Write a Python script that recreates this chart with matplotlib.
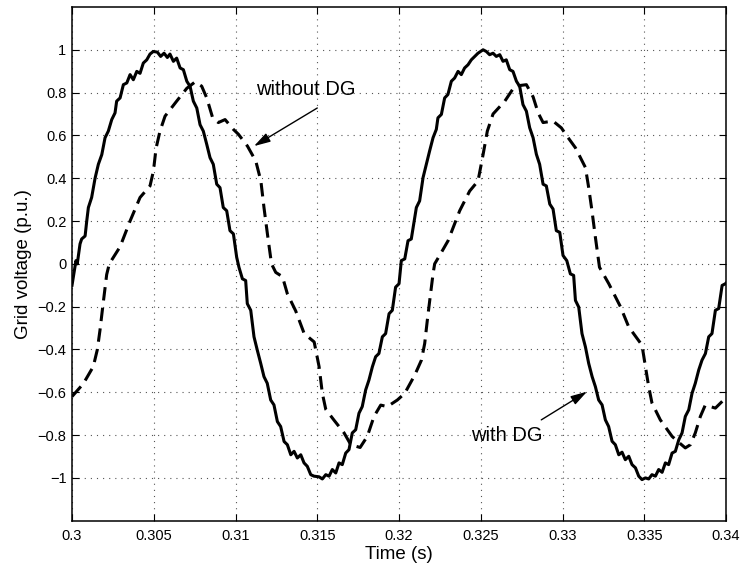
import matplotlib
matplotlib.use("Agg")
import matplotlib.pyplot as plt
from matplotlib.ticker import FuncFormatter
import numpy as np

# values
# with DG (solid)
t_with = [0.30000, 0.30024, 0.30032, 0.30049, 0.30059, 0.30080, 0.30090, 0.30100, 0.30120, 0.30141,
          0.30161, 0.30182, 0.30202, 0.30222, 0.30243, 0.30263, 0.30273, 0.30294, 0.30314, 0.30335,
          0.30355, 0.30375, 0.30396, 0.30416, 0.30436, 0.30457, 0.30477, 0.30497, 0.30522, 0.30542,
          0.30563, 0.30583, 0.30599, 0.30620, 0.30640, 0.30661, 0.30681, 0.30702, 0.30722, 0.30742,
          0.30763, 0.30783, 0.30803, 0.30824, 0.30844, 0.30864, 0.30885, 0.30905, 0.30925, 0.30946,
          0.30966, 0.30987, 0.31007, 0.31021, 0.31042, 0.31062, 0.31072, 0.31093, 0.31113, 0.31133,
          0.31154, 0.31174, 0.31194, 0.31215, 0.31235, 0.31256, 0.31276, 0.31297, 0.31317, 0.31338,
          0.31358, 0.31378, 0.31399, 0.31419, 0.31439, 0.31460, 0.31480, 0.31511, 0.31531, 0.31552,
          0.31572, 0.31592, 0.31613, 0.31633, 0.31653, 0.31674, 0.31694, 0.31714, 0.31735, 0.31755,
          0.31775, 0.31796, 0.31816, 0.31837, 0.31857, 0.31877, 0.31898, 0.31918, 0.31939, 0.31959,
          0.31979, 0.32000, 0.32014, 0.32035, 0.32055, 0.32075, 0.32096, 0.32106, 0.32126, 0.32147,
          0.32167, 0.32187, 0.32208, 0.32228, 0.32238, 0.32259, 0.32279, 0.32299, 0.32320, 0.32340,
          0.32361, 0.32381, 0.32401, 0.32422, 0.32442, 0.32463, 0.32483, 0.32514, 0.32534, 0.32554,
          0.32575, 0.32595, 0.32616, 0.32636, 0.32656, 0.32677, 0.32697, 0.32718, 0.32738, 0.32758,
          0.32779, 0.32799, 0.32820, 0.32840, 0.32860, 0.32881, 0.32901, 0.32922, 0.32942, 0.32962,
          0.32983, 0.33003, 0.33026, 0.33048, 0.33068, 0.33079, 0.33099, 0.33119, 0.33140, 0.33160,
          0.33181, 0.33201, 0.33221, 0.33242, 0.33262, 0.33282, 0.33303, 0.33323, 0.33344, 0.33364,
          0.33384, 0.33405, 0.33425, 0.33446, 0.33466, 0.33486, 0.33507, 0.33527, 0.33547, 0.33568,
          0.33588, 0.33609, 0.33629, 0.33649, 0.33670, 0.33690, 0.33711, 0.33731, 0.33751, 0.33772,
          0.33792, 0.33812, 0.33833, 0.33853, 0.33874, 0.33894, 0.33914, 0.33935, 0.33955, 0.33976,
          0.33996, 0.34000]
v_with = [-0.100, 0.015, 0.000, 0.093, 0.116, 0.130, 0.200, 0.263, 0.310, 0.400,
          0.465, 0.510, 0.589, 0.620, 0.674, 0.705, 0.760, 0.775, 0.837, 0.845,
          0.884, 0.860, 0.899, 0.890, 0.938, 0.953, 0.980, 0.992, 0.989, 0.969,
          0.984, 0.964, 0.980, 0.946, 0.961, 0.915, 0.907, 0.853, 0.829, 0.760,
          0.728, 0.650, 0.620, 0.558, 0.496, 0.465, 0.372, 0.356, 0.263, 0.248,
          0.155, 0.140, 0.031, -0.016, -0.070, -0.078, -0.186, -0.217, -0.341, -0.403,
          -0.465, -0.527, -0.558, -0.636, -0.659, -0.737, -0.760, -0.830, -0.845, -0.892,
          -0.876, -0.907, -0.892, -0.930, -0.946, -0.985, -0.992, -0.995, -1.005, -0.985,
          -0.992, -0.961, -0.977, -0.930, -0.938, -0.884, -0.868, -0.790, -0.775, -0.698,
          -0.667, -0.589, -0.543, -0.481, -0.434, -0.419, -0.341, -0.326, -0.233, -0.217,
          -0.109, -0.093, 0.015, 0.023, 0.108, 0.116, 0.217, 0.263, 0.294, 0.403,
          0.465, 0.527, 0.589, 0.628, 0.682, 0.698, 0.775, 0.791, 0.853, 0.868,
          0.899, 0.884, 0.915, 0.930, 0.953, 0.969, 0.984, 1.000, 0.992, 0.977,
          0.984, 0.969, 0.977, 0.946, 0.953, 0.907, 0.899, 0.853, 0.829, 0.744,
          0.713, 0.636, 0.589, 0.512, 0.465, 0.372, 0.364, 0.279, 0.256, 0.155,
          0.147, 0.039, 0.015, -0.047, -0.054, -0.171, -0.202, -0.326, -0.388, -0.465,
          -0.527, -0.574, -0.636, -0.659, -0.729, -0.760, -0.829, -0.845, -0.892, -0.880,
          -0.915, -0.899, -0.938, -0.953, -0.992, -1.008, -1.000, -1.005, -0.985, -0.992,
          -0.961, -0.974, -0.930, -0.938, -0.884, -0.876, -0.822, -0.790, -0.713, -0.682,
          -0.605, -0.558, -0.496, -0.450, -0.419, -0.341, -0.326, -0.217, -0.209, -0.101,
          -0.093, -0.090]

# without DG (dashed)
t_without = [0.30000, 0.30069, 0.30130, 0.30155, 0.30171, 0.30188, 0.30212, 0.30228, 0.30294, 0.30355,
             0.30416, 0.30477, 0.30498, 0.30514, 0.30538, 0.30569, 0.30640, 0.30702, 0.30753, 0.30793,
             0.30824, 0.30861, 0.30895, 0.30936, 0.30987, 0.31018, 0.31073, 0.31124, 0.31155, 0.31174,
             0.31195, 0.31220, 0.31246, 0.31287, 0.31317, 0.31368, 0.31420, 0.31481, 0.31511, 0.31531,
             0.31552, 0.31602, 0.31664, 0.31705, 0.31762, 0.31806, 0.31847, 0.31888, 0.31929, 0.31990,
             0.32035, 0.32096, 0.32137, 0.32157, 0.32173, 0.32188, 0.32208, 0.32218, 0.32249, 0.32300,
             0.32371, 0.32432, 0.32483, 0.32514, 0.32540, 0.32575, 0.32647, 0.32708, 0.32779, 0.32820,
             0.32851, 0.32881, 0.32942, 0.32993, 0.33024, 0.33079, 0.33140, 0.33160, 0.33180, 0.33201,
             0.33226, 0.33283, 0.33354, 0.33405, 0.33486, 0.33507, 0.33527, 0.33547, 0.33598, 0.33670,
             0.33711, 0.33751, 0.33782, 0.33812, 0.33843, 0.33873, 0.33935, 0.33996, 0.34000]
v_without = [-0.620, -0.560, -0.480, -0.400, -0.310, -0.200, -0.050, 0.000, 0.080, 0.200,
             0.310, 0.364, 0.434, 0.540, 0.620, 0.690, 0.760, 0.820, 0.850, 0.830,
             0.775, 0.680, 0.660, 0.674, 0.628, 0.605, 0.550, 0.480, 0.387, 0.263,
             0.140, 0.000, -0.040, -0.060, -0.140, -0.220, -0.326, -0.365, -0.480, -0.605,
             -0.680, -0.730, -0.790, -0.845, -0.858, -0.806, -0.713, -0.660, -0.667, -0.636,
             -0.605, -0.520, -0.450, -0.372, -0.264, -0.170, -0.047, 0.000, 0.040, 0.108,
             0.248, 0.340, 0.387, 0.510, 0.620, 0.700, 0.760, 0.830, 0.837, 0.780,
             0.705, 0.660, 0.667, 0.635, 0.600, 0.542, 0.450, 0.356, 0.248, 0.124,
             -0.016, -0.093, -0.200, -0.295, -0.380, -0.480, -0.574, -0.650, -0.729, -0.806,
             -0.834, -0.860, -0.845, -0.790, -0.713, -0.660, -0.674, -0.628, -0.620]

x_ticks = [0.3, 0.305, 0.31, 0.315, 0.32, 0.325, 0.33, 0.335, 0.34]
y_ticks = [-1, -0.8, -0.6, -0.4, -0.2, 0, 0.2, 0.4, 0.6, 0.8, 1]

plt.rcParams['font.family'] = ['Liberation Sans', 'DejaVu Sans']

fig = plt.figure(figsize=(7.41, 5.71), dpi=100)
ax = fig.add_axes([0.0972, 0.0881, 0.8826, 0.8997])

ax.plot(t_with, v_with, color="black", lw=2.2, zorder=3)
ax.plot(t_without, v_without, color="black", lw=2.2, linestyle=(0, (4.4, 2.4)), zorder=3)

ax.set_xlim(0.3, 0.34)
ax.set_ylim(-1.2, 1.2)
ax.set_xticks(x_ticks)
ax.set_yticks(y_ticks)
fmt = FuncFormatter(lambda v, _: ("%g" % v).replace("-", "\u2212"))
ax.xaxis.set_major_formatter(fmt)
ax.yaxis.set_major_formatter(fmt)
ax.tick_params(direction="in", top=True, right=True, length=5, width=0.8, labelsize=10.5)
ax.tick_params(axis="x", pad=6)
ax.tick_params(axis="y", pad=4)
ax.grid(True, color="#555555", linestyle=(0, (1, 4.5)), linewidth=0.8, zorder=0)
for s in ax.spines.values():
    s.set_linewidth(1.1)

ax.set_xlabel("Time (s)", fontsize=13.5, labelpad=2)
ax.set_ylabel("Grid voltage (p.u.)", fontsize=13.5, labelpad=4)

# annotations: text, then a separate arrow from just beside the text
arrow = dict(arrowstyle="-|>,head_length=0.55,head_width=0.16", color="black", lw=1.0,
             mutation_scale=18, shrinkA=0, shrinkB=0)
ax.text(0.31429, 0.815, "without DG", fontsize=14.5, ha="center", va="center")
ax.annotate("", xy=(0.31113, 0.55), xytext=(0.315, 0.728), arrowprops=arrow)
ax.text(0.32656, -0.80, "with DG", fontsize=14.5, ha="center", va="center")
ax.annotate("", xy=(0.3315, -0.597), xytext=(0.3287, -0.729), arrowprops=arrow)

fig.savefig("out.png", dpi=100)
